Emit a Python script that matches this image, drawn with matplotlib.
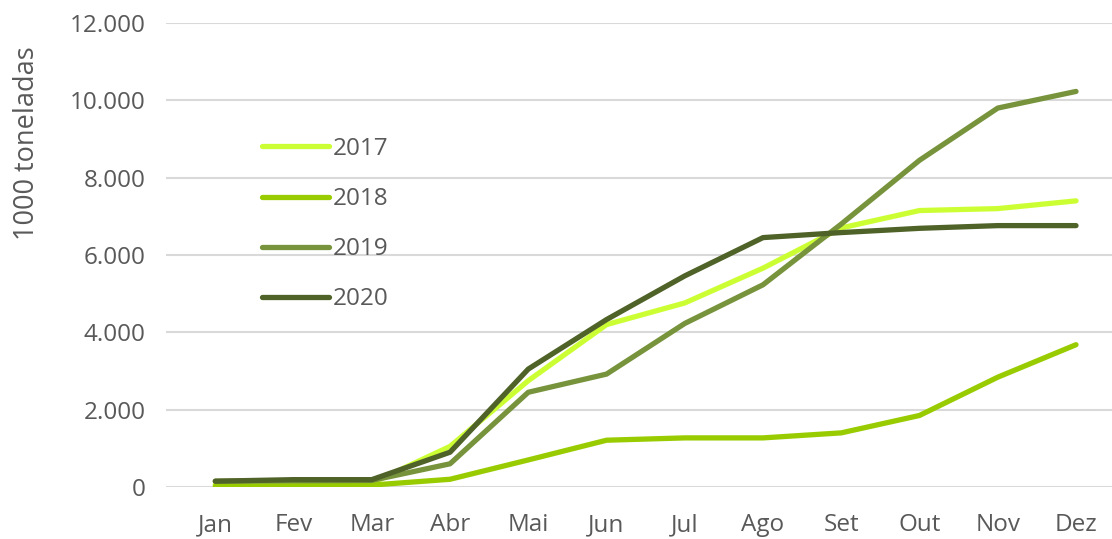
import matplotlib.pyplot as plt
from matplotlib.ticker import FuncFormatter

# monthly cumulative volumes (1000 t)
months = ['Jan', 'Fev', 'Mar', 'Abr', 'Mai', 'Jun', 'Jul', 'Ago', 'Set', 'Out', 'Nov', 'Dez']
v2017 = [60, 80, 100, 1050, 2750, 4200, 4760, 5660, 6700, 7150, 7200, 7400]
v2018 = [20, 30, 50, 200, 700, 1210, 1270, 1270, 1400, 1850, 2840, 3680]
v2019 = [150, 160, 170, 600, 2450, 2920, 4230, 5230, 6800, 8450, 9800, 10230]
v2020 = [150, 190, 190, 900, 3050, 4330, 5460, 6450, 6580, 6690, 6760, 6760]

series = [('2017', v2017, '#CCFF33'),
          ('2018', v2018, '#99CC00'),
          ('2019', v2019, '#77933C'),
          ('2020', v2020, '#4F6228')]

plt.rcParams['font.family'] = 'Open Sans'
txt_color = '#595959'
fs = 17.5

fig = plt.figure(figsize=(11.12, 5.39), dpi=100)
ax = fig.add_axes([166 / 1112, 52 / 539, (1112 - 166) / 1112, (487 - 23) / 539])

x = range(len(months))
for label, vals, col in series:
    ax.plot(x, vals, color=col, lw=3.8, solid_capstyle='round',
            solid_joinstyle='round', label=label)

ax.set_xlim(-0.63, 11.46)
ax.set_ylim(0, 12000)
ax.set_yticks(range(0, 12001, 2000))
ax.yaxis.set_major_formatter(FuncFormatter(lambda v, p: f'{int(v):,}'.replace(',', '.')))
ax.set_xticks(list(x))
ax.set_xticklabels(months)

ax.grid(axis='y', color='#D9D9D9', lw=1.5)
ax.set_axisbelow(True)
for s in ax.spines.values():
    s.set_visible(False)
ax.tick_params(axis='both', length=0, labelsize=fs, colors=txt_color)
ax.tick_params(axis='y', pad=14.5)
ax.tick_params(axis='x', pad=19)

fig.text(27 / 1112, 1 - 143 / 539, '1000 toneladas', rotation=90,
         ha='center', va='center', fontsize=19.5, color=txt_color)

leg = ax.legend(loc='upper left', bbox_to_anchor=(262 / 1112, 1 - 137 / 539),
                bbox_transform=fig.transFigure, frameon=False, fontsize=fs,
                handlelength=2.75, handletextpad=0.17, labelspacing=1.07,
                borderpad=0, borderaxespad=0)
for t in leg.get_texts():
    t.set_color(txt_color)

fig.savefig('out.png', dpi=100)
